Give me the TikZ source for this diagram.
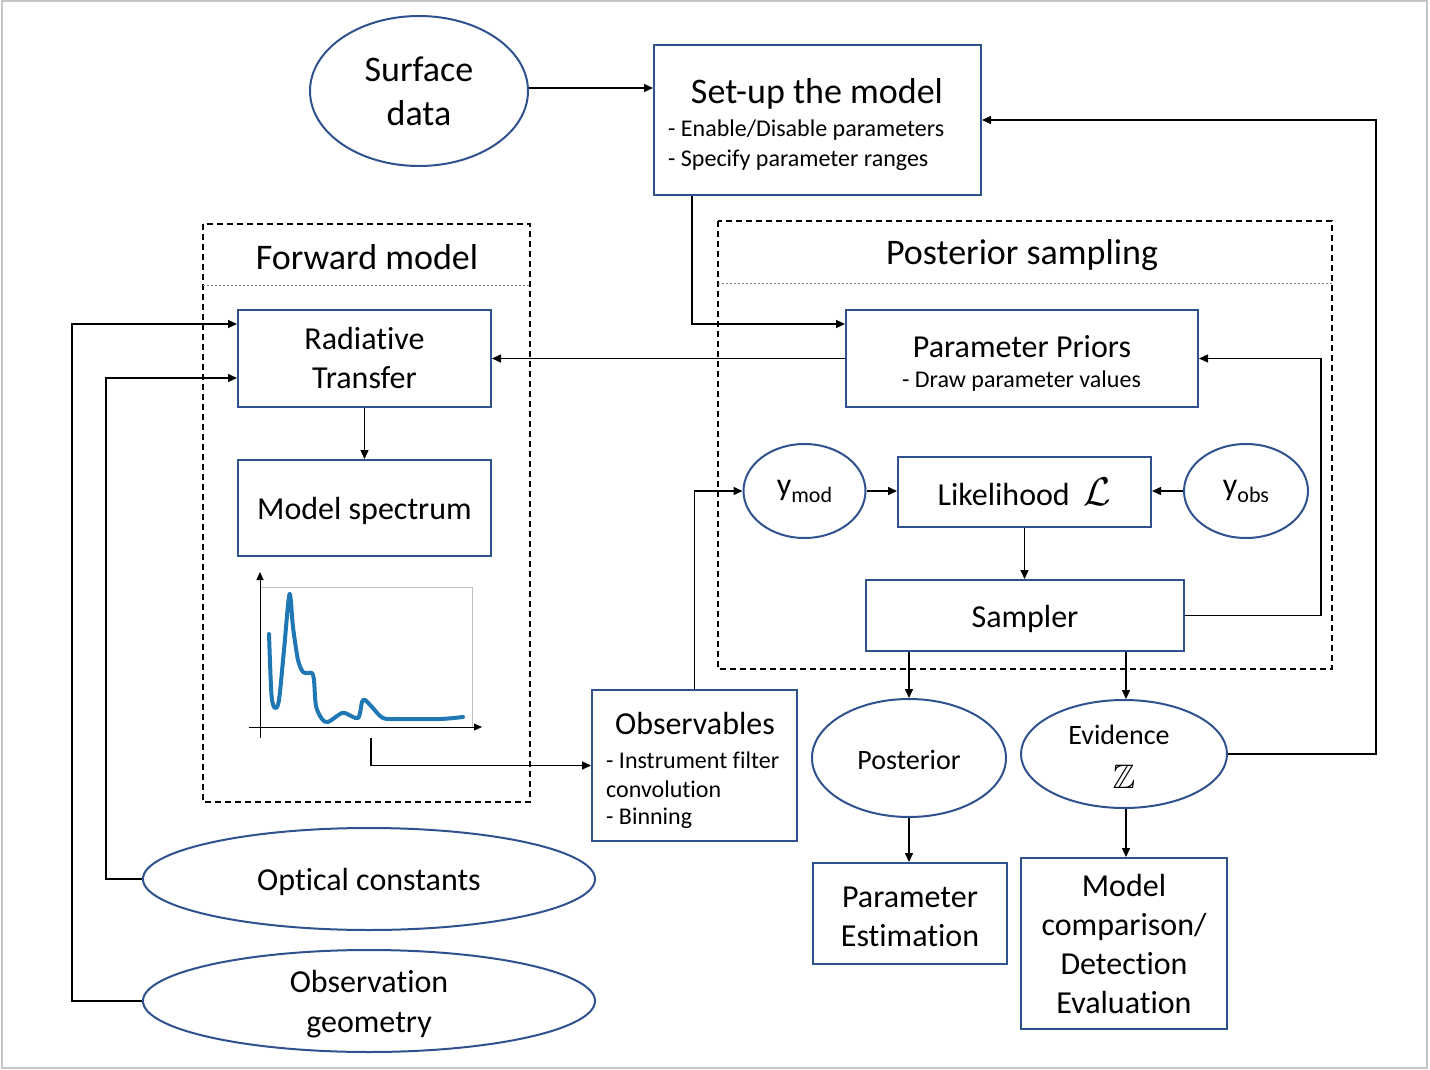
\RequirePackage{fix-cm}
\documentclass[tikz,border=0pt]{standalone}
\usepackage{amssymb}
\usepackage{fontspec}
\setmainfont[Ligatures={NoCommon}]{Carlito}
\usetikzlibrary{shapes.geometric,arrows.meta}
\definecolor{boxblue}{RGB}{47,82,143}
\definecolor{plotblue}{RGB}{31,119,180}
\newcommand\fsz[2]{\fontsize{#1}{#2}\selectfont}
\newcommand\dn[2]{\raisebox{-#1pt}[\height][\depth]{#2}}
\tikzset{
 box/.style={draw=boxblue, line width=2pt, rectangle, inner sep=0pt, align=center},
 ell/.style={draw=boxblue, line width=2pt, ellipse, inner sep=0pt, align=center},
 arr/.style={line width=1.5pt, -{Triangle[length=9pt,width=8pt]}},
 dbox/.style={draw, line width=1.5pt, dash pattern=on 6pt off 4pt},
 sepline/.style={draw=gray, line width=1pt, dash pattern=on 2pt off 2pt},
 txt/.style={inner sep=0pt, align=center},
 big/.style={font=\fsz{36}{44}},
 mid/.style={font=\fsz{32}{39}},
 sml/.style={font=\fsz{24}{29}},
}
\begin{document}
\begin{tikzpicture}[x=1pt,y=-1pt]
\useasboundingbox (0,0) rectangle (1430,1070);
\draw[gray!45, line width=2pt] (2,1) rectangle (1427,1068);

% dashed frames
\draw[dbox] (203,224) rectangle (530,802);
\draw[sepline] (203,285) -- (530,285);
\node[txt, big] (fwdtitle) at (367,257) {Forward model};
\draw[dbox] (718,221) rectangle (1332,669);
\draw[sepline] (718,283) -- (1332,283);
\node[txt, big] (posttitle) at (1022,255) {Posterior sampling};

% top
\node[ell, big, minimum width=218pt, minimum height=150pt] (surf) at (419,91) {Surface\\data};
\node[box, minimum width=327pt, minimum height=150pt] (setup) at (817.5,120) {};
\node[txt, big] (setupt) at (817,94) {Set-up the model};
\node[txt, sml, anchor=west] (setupl1) at (668,130) {- Enable/Disable parameters};
\node[txt, sml, anchor=west] (setupl2) at (668,160) {- Specify parameter ranges};

% forward model
\node[box, mid, minimum width=253pt, minimum height=97pt] (rt) at (364.5,358.5) {Radiative\\Transfer};
\node[box, mid, minimum width=253pt, minimum height=96pt] (ms) at (364.5,508) {\dn{3}{Model spectrum}};

% plot
\draw[gray!50, line width=1pt] (260,587) rectangle (472,727);
\draw[line width=1pt, -{Triangle[length=8pt,width=7pt]}] (260,738) -- (260,572);
\draw[line width=1pt, -{Triangle[length=8pt,width=7pt]}] (249,727) -- (482,727);
\draw[plotblue, line width=4pt, line cap=round, line join=round] plot[smooth, tension=0.5] coordinates {(269,634) (271.5,695) (275,708) (279,700) (284,650) (289.5,594) (293,627) (298,660) (303,672) (308,673) (312,673) (314,680) (316,706) (322,719) (328,722) (340,714) (345,713) (358,718) (362,702) (365,700) (372,707) (383,718) (400,719) (440,719) (463,717)};
\coordinate (plotend) at (371,738);

% observables
\node[box, minimum width=205pt, minimum height=151pt] (obs) at (694.5,765.5) {};
\node[txt, mid] (obst) at (695,724) {Observables};
\node[txt, sml, anchor=west] (obsl1) at (606,760) {- Instrument filter};
\node[txt, sml, anchor=west] (obsl2) at (606,789) {convolution};
\node[txt, sml, anchor=west] (obsl3) at (606,818) {- Binning};

% posterior sampling
\node[box, minimum width=352pt, minimum height=97pt] (pp) at (1022,358.5) {};
\node[txt, mid] (ppt) at (1022,347) {Parameter Priors};
\node[txt, sml] (ppl) at (1021.5,381) {- Draw parameter values};
\node[ell, minimum width=122pt, minimum height=94pt] (ymod) at (804.5,491) {\fsz{32}{38}y\raisebox{-7pt}{\fsz{22}{26}mod}};
\node[box, minimum width=253pt, minimum height=70pt] (lik) at (1024.5,492) {\fsz{32}{38}Likelihood\hspace{14pt}{\fsz{40}{40}$\mathcal{L}$}};
\node[ell, minimum width=124pt, minimum height=94pt] (yobs) at (1246,491) {\fsz{32}{38}y\raisebox{-7pt}{\fsz{22}{26}obs}};
\node[box, mid, minimum width=318pt, minimum height=71pt] (samp) at (1025,615.5) {\dn{3}{Sampler}};

% outputs
\node[ell, minimum width=194pt, minimum height=118pt] (post) at (909,758) {\fsz{28}{34}\dn{2}{Posterior}};
\node[ell, minimum width=206pt, minimum height=108pt] (evid) at (1124,754) {};
\node[txt] (evidt) at (1119,735) {\fsz{28}{34}Evidence};
\node[txt] (evidz) at (1124,777) {\fsz{34}{40}$\mathbb{Z}$};
\node[box, mid, minimum width=194pt, minimum height=101pt] (pest) at (910,913.5) {\dn{3}{Parameter}\\\dn{3}{Estimation}};
\node[box, mid, minimum width=206pt, minimum height=171pt] (mcomp) at (1124,943.5) {Model\\comparison/\\Detection\\Evaluation};

% bottom ellipses
\node[ell, mid, minimum width=452pt, minimum height=102pt] (optc) at (369,879) {\dn{3}{Optical constants}};
\node[ell, minimum width=452pt, minimum height=102pt] (obsgeo) at (369,1001) {};
\node[txt, font=\fsz{32}{40}] (obsgeot) at (369,1004) {Observation\\geometry};

% connectors
\draw[arr] ([yshift=3pt]surf.east) -- ([yshift=3pt]surf.east -| setup.west);
\draw[arr] (evid.east) -- ++(148,0) |- (setup.east);
\draw[arr] ([xshift=-125.5pt]setup.south) |- ([yshift=34.5pt]pp.west);
\draw[arr] (pp.west) -- (rt.east);
\draw[arr] (rt.south) -- (ms.north);
\draw[arr] (plotend) |- (obs.west);
\draw[arr] (obs.north) |- (ymod.west);
\draw[arr] (ymod.east) -- (ymod.east -| lik.west);
\draw[arr] (yobs.west) -- (yobs.west -| lik.east);
\draw[arr] (lik.south) -- (lik.south |- samp.north);
\draw[arr] (samp.east) -- ++(136,0) |- (pp.east);
\draw[arr] (samp.south -| post.north) -- (post.north);
\draw[arr] ([xshift=2pt]samp.south -| evid.north) -- ([xshift=2pt]evid.north);
\draw[arr] (post.south) -- (post.south |- pest.north);
\draw[arr] ([xshift=2pt]evid.south) -- ([xshift=2pt]evid.south |- mcomp.north);
\draw[arr] (optc.west) -- ++(-36,0) |- ([yshift=-19.5pt]rt.west);
\draw[arr] (obsgeo.west) -- ++(-70,0) |- ([yshift=34.5pt]rt.west);
\end{tikzpicture}
\end{document}
